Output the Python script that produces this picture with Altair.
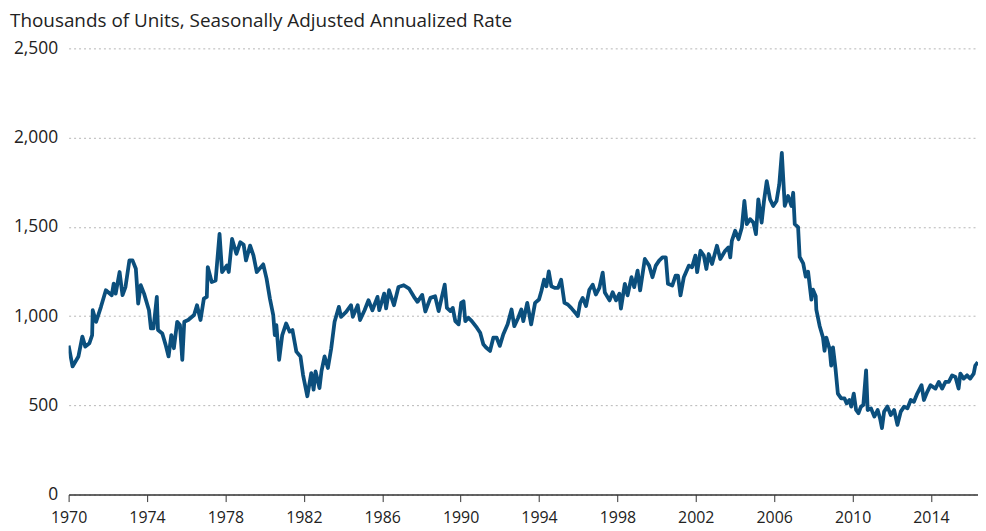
import altair as alt
import pandas as pd

years = [
    1970.00, 1970.20, 1970.50, 1970.70, 1970.85, 1971.06, 1971.20, 1971.23, 1971.40, 1971.65,
    1971.90, 1972.20, 1972.30, 1972.40, 1972.60, 1972.75, 1972.90, 1973.10, 1973.26, 1973.43,
    1973.55, 1973.68, 1973.85, 1974.10, 1974.20, 1974.33, 1974.50, 1974.56, 1974.78, 1974.95,
    1975.10, 1975.24, 1975.37, 1975.54, 1975.68, 1975.80, 1975.90, 1976.10, 1976.40, 1976.55,
    1976.73, 1976.90, 1977.05, 1977.10, 1977.30, 1977.50, 1977.70, 1977.83, 1978.08, 1978.17,
    1978.34, 1978.56, 1978.76, 1978.93, 1979.05, 1979.26, 1979.43, 1979.60, 1979.93, 1980.10,
    1980.27, 1980.44, 1980.52, 1980.60, 1980.74, 1980.90, 1981.10, 1981.28, 1981.42, 1981.62,
    1981.83, 1981.96, 1982.18, 1982.38, 1982.50, 1982.60, 1982.80, 1982.90, 1983.06, 1983.23,
    1983.40, 1983.57, 1983.79, 1983.90, 1984.16, 1984.41, 1984.50, 1984.75, 1984.87, 1985.10,
    1985.30, 1985.50, 1985.76, 1985.85, 1986.10, 1986.20, 1986.35, 1986.60, 1986.83, 1987.10,
    1987.37, 1987.62, 1987.80, 1988.04, 1988.20, 1988.46, 1988.70, 1988.88, 1989.05, 1989.19,
    1989.30, 1989.48, 1989.60, 1989.73, 1989.90, 1990.03, 1990.15, 1990.24, 1990.40, 1990.57,
    1990.83, 1991.00, 1991.16, 1991.30, 1991.50, 1991.67, 1991.84, 1992.00, 1992.18, 1992.40,
    1992.60, 1992.74, 1992.94, 1993.10, 1993.20, 1993.40, 1993.60, 1993.80, 1994.00, 1994.12,
    1994.26, 1994.38, 1994.50, 1994.63, 1994.80, 1994.97, 1995.13, 1995.30, 1995.47, 1995.64,
    1995.85, 1995.98, 1996.10, 1996.23, 1996.40, 1996.57, 1996.74, 1996.90, 1997.08, 1997.25,
    1997.36, 1997.60, 1997.76, 1997.93, 1998.10, 1998.18, 1998.38, 1998.52, 1998.72, 1998.86,
    1999.03, 1999.16, 1999.40, 1999.62, 1999.79, 1999.96, 2000.13, 2000.30, 2000.47, 2000.58,
    2000.80, 2000.97, 2001.09, 2001.22, 2001.39, 2001.65, 2001.81, 2001.98, 2002.07, 2002.24,
    2002.41, 2002.54, 2002.66, 2002.83, 2003.08, 2003.25, 2003.50, 2003.67, 2003.76, 2003.84,
    2004.01, 2004.18, 2004.35, 2004.48, 2004.60, 2004.77, 2004.94, 2005.07, 2005.19, 2005.36,
    2005.48, 2005.62, 2005.79, 2005.95, 2006.12, 2006.26, 2006.39, 2006.54, 2006.71, 2006.88,
    2006.97, 2007.05, 2007.22, 2007.30, 2007.48, 2007.61, 2007.73, 2007.90, 2007.98, 2008.12,
    2008.15, 2008.32, 2008.49, 2008.57, 2008.66, 2008.83, 2008.91, 2009.00, 2009.13, 2009.25,
    2009.42, 2009.59, 2009.70, 2009.84, 2009.93, 2010.06, 2010.18, 2010.30, 2010.43, 2010.55,
    2010.69, 2010.77, 2010.94, 2011.11, 2011.28, 2011.40, 2011.50, 2011.61, 2011.78, 2011.95,
    2012.12, 2012.29, 2012.46, 2012.63, 2012.80, 2012.97, 2013.13, 2013.30, 2013.52, 2013.64,
    2013.81, 2013.98, 2014.23, 2014.40, 2014.57, 2014.74, 2014.91, 2015.08, 2015.25, 2015.41,
    2015.50, 2015.67, 2015.84, 2016.00, 2016.18, 2016.26, 2016.39,
]

units = [
    835, 718, 774, 885, 829, 848, 894, 1033, 968, 1052,
    1145, 1117, 1182, 1126, 1247, 1117, 1163, 1312, 1312, 1265,
    1070, 1173, 1126, 1033, 931, 931, 1108, 922, 903, 839,
    774, 894, 820, 968, 950, 755, 968, 978, 1006, 1061,
    978, 1098, 1108, 1275, 1191, 1200, 1460, 1247, 1284, 1247,
    1432, 1349, 1414, 1400, 1312, 1395, 1340, 1247, 1290, 1210,
    1098, 1006, 894, 950, 755, 894, 959, 913, 922, 801,
    774, 671, 551, 681, 588, 690, 597, 690, 774, 709,
    820, 968, 1052, 996, 1024, 1061, 996, 1061, 978, 1033,
    1089, 1033, 1108, 1033, 1126, 1043, 1145, 1061, 1163, 1173,
    1154, 1108, 1080, 1119, 1026, 1102, 1111, 1028, 1111, 1176,
    1046, 1028, 1046, 972, 954, 1074, 1083, 972, 991, 972,
    935, 907, 842, 824, 805, 879, 879, 833, 898, 954,
    1037, 944, 991, 1037, 972, 1074, 954, 1074, 1093, 1139,
    1204, 1167, 1250, 1167, 1158, 1158, 1204, 1074, 1065, 1046,
    1019, 1000, 1074, 1102, 1056, 1148, 1176, 1121, 1158, 1244,
    1132, 1088, 1134, 1088, 1125, 1042, 1181, 1116, 1218, 1162,
    1255, 1144, 1320, 1283, 1218, 1283, 1311, 1329, 1329, 1181,
    1171, 1227, 1227, 1116, 1218, 1283, 1274, 1339, 1246, 1366,
    1339, 1264, 1348, 1292, 1394, 1320, 1366, 1385, 1329, 1422,
    1478, 1431, 1496, 1645, 1515, 1543, 1524, 1459, 1654, 1524,
    1645, 1756, 1654, 1617, 1645, 1738, 1914, 1617, 1673, 1617,
    1691, 1515, 1498, 1332, 1295, 1221, 1249, 1092, 1148, 1111,
    1037, 945, 880, 806, 880, 815, 723, 825, 705, 566,
    539, 539, 511, 530, 493, 566, 474, 456, 493, 502,
    696, 474, 483, 437, 474, 428, 373, 465, 493, 446,
    474, 391, 465, 493, 483, 530, 520, 566, 613, 530,
    576, 613, 594, 631, 594, 631, 631, 668, 659, 594,
    678, 650, 668, 650, 678, 723, 742,
]

tick_years = [1970, 1974, 1978, 1982, 1986, 1990, 1994, 1998, 2002, 2006, 2010, 2014]
y_ticks = [0, 500, 1000, 1500, 2000, 2500]
title_text = "Thousands of Units, Seasonally Adjusted Annualized Rate"

df = pd.DataFrame({"year": years, "units": units})

FONT = "Open Sans"

chart = (
    alt.Chart(df)
    .mark_line(color="#0b4f7d", strokeWidth=3.8, strokeJoin="round", clip=True)
    .encode(
        x=alt.X(
            "year:Q",
            scale=alt.Scale(domain=[1970, 2016.4], nice=False, zero=False),
            axis=alt.Axis(
                values=tick_years, format="d", title=None, grid=False,
                domainColor="#333333", domainWidth=1.5, tickColor="#333333", tickSize=7,
                labelFont=FONT, labelFontSize=16, labelColor="#222222", labelPadding=8,
                labelFlush=False,
            ),
        ),
        y=alt.Y(
            "units:Q",
            scale=alt.Scale(domain=[0, 2500], nice=False),
            axis=alt.Axis(
                values=y_ticks, format=",.0f", title=None, domain=False, ticks=False,
                grid=True, gridColor="#b5b5b5", gridDash=[2, 3], gridWidth=1,
                labelFont=FONT, labelFontSize=17.5, labelColor="#222222", labelPadding=11,
            ),
        ),
    )
    .properties(
        width=915,
        height=449,
        title=alt.TitleParams(
            text=title_text, anchor="start", frame="group", dx=-59, offset=8,
            font=FONT, fontSize=19, fontWeight="normal", color="#222222",
        ),
    )
    .configure(autosize="none", padding={"left": 61, "top": 39, "right": 0, "bottom": 34})
    .configure_view(stroke=None)
)

chart.save("out.html", embed_options={"renderer": "svg", "actions": False})
